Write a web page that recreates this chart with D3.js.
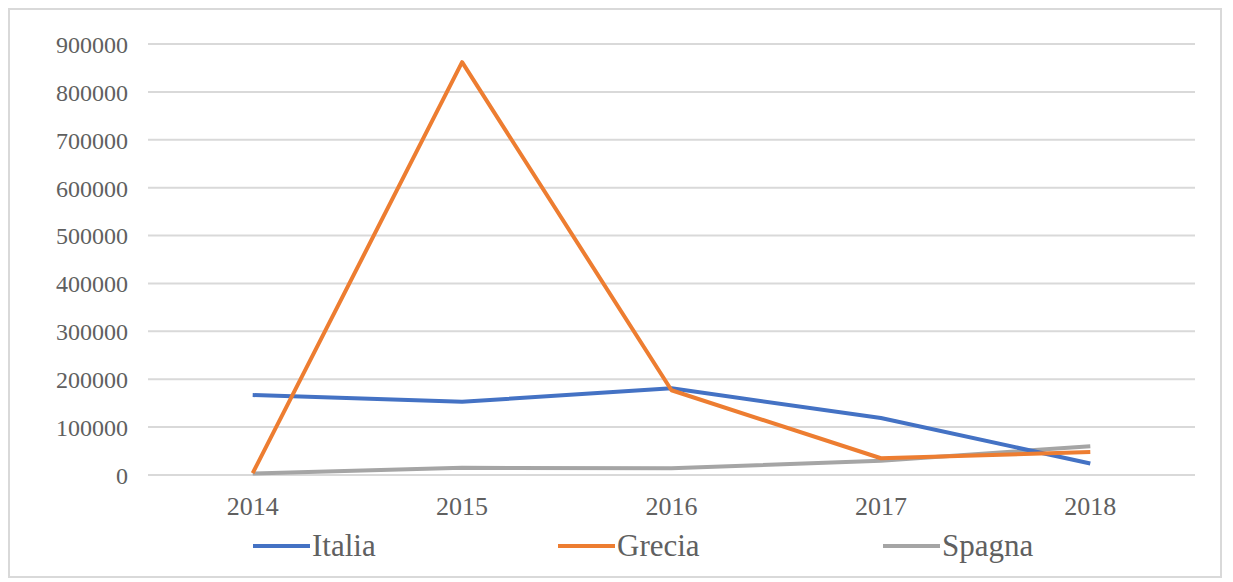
<!DOCTYPE html>
<html><head><meta charset="utf-8">
<script src="https://cdn.jsdelivr.net/npm/d3@7"></script>
<style>body{margin:0;background:#fff}svg{display:block}</style>
</head><body><svg id="c" width="1233" height="582"></svg>
<script>
const years = ["2014","2015","2016","2017","2018"];
const italia = [167000,153000,181000,119000,24000];
const grecia = [4000,862000,177000,35000,48000];
const spagna = [3000,15000,14000,30000,60000];
const yTicks = [0,100000,200000,300000,400000,500000,600000,700000,800000,900000];
const seriesNames = ["Italia","Grecia","Spagna"];
const colors = ["#4472C4","#ED7D31","#A5A5A5"];
const FONT = "Liberation Serif";

const svg = d3.select("#c");
svg.append("rect").attr("x",9).attr("y",9).attr("width",1212).attr("height",568)
  .attr("fill","none").attr("stroke","#d9d9d9").attr("stroke-width",2);

const x = d3.scaleBand().domain(years).range([148,1195]);
const y = d3.scaleLinear().domain([0,900000]).range([475,44]);

svg.append("g").selectAll("line").data(yTicks).join("line")
  .attr("x1",148).attr("x2",1195).attr("y1",d=>y(d)).attr("y2",d=>y(d))
  .attr("stroke","#d9d9d9").attr("stroke-width",2);

const yAxis = d3.axisLeft(y).tickValues(yTicks).tickSize(0).tickPadding(0).tickFormat(d=>String(d));
const ya = svg.append("g").attr("transform","translate(128,0)").call(yAxis);
ya.attr("font-family",FONT).attr("font-size",24);
ya.select(".domain").remove();
ya.selectAll("text").attr("dy","0.35em").attr("fill","#606060");

const xAxis = d3.axisBottom(x).tickSize(0).tickPadding(0);
const xa = svg.append("g").attr("transform","translate(0,497)").call(xAxis);
xa.attr("font-family",FONT).attr("font-size",26);
xa.select(".domain").remove();
xa.selectAll("text").attr("dy","0.71em").attr("fill","#606060");

const data = [italia,grecia,spagna];
const line = d3.line().x((d,i)=>x(years[i])+x.bandwidth()/2).y(d=>y(d));
[2,0,1].forEach(k=>{
  svg.append("path").datum(data[k]).attr("d",line).attr("fill","none")
    .attr("stroke",colors[k]).attr("stroke-width",4).attr("stroke-linejoin","round");
});

const legX = [253,558,883];
const leg = svg.append("g").attr("font-family",FONT).attr("font-size",31).attr("fill","#606060");
seriesNames.forEach((n,i)=>{
  leg.append("line").attr("x1",legX[i]).attr("x2",legX[i]+57).attr("y1",546).attr("y2",546)
    .attr("stroke",colors[i]).attr("stroke-width",4);
  leg.append("text").attr("x",legX[i]+59).attr("y",556).text(n);
});
</script></body></html>
